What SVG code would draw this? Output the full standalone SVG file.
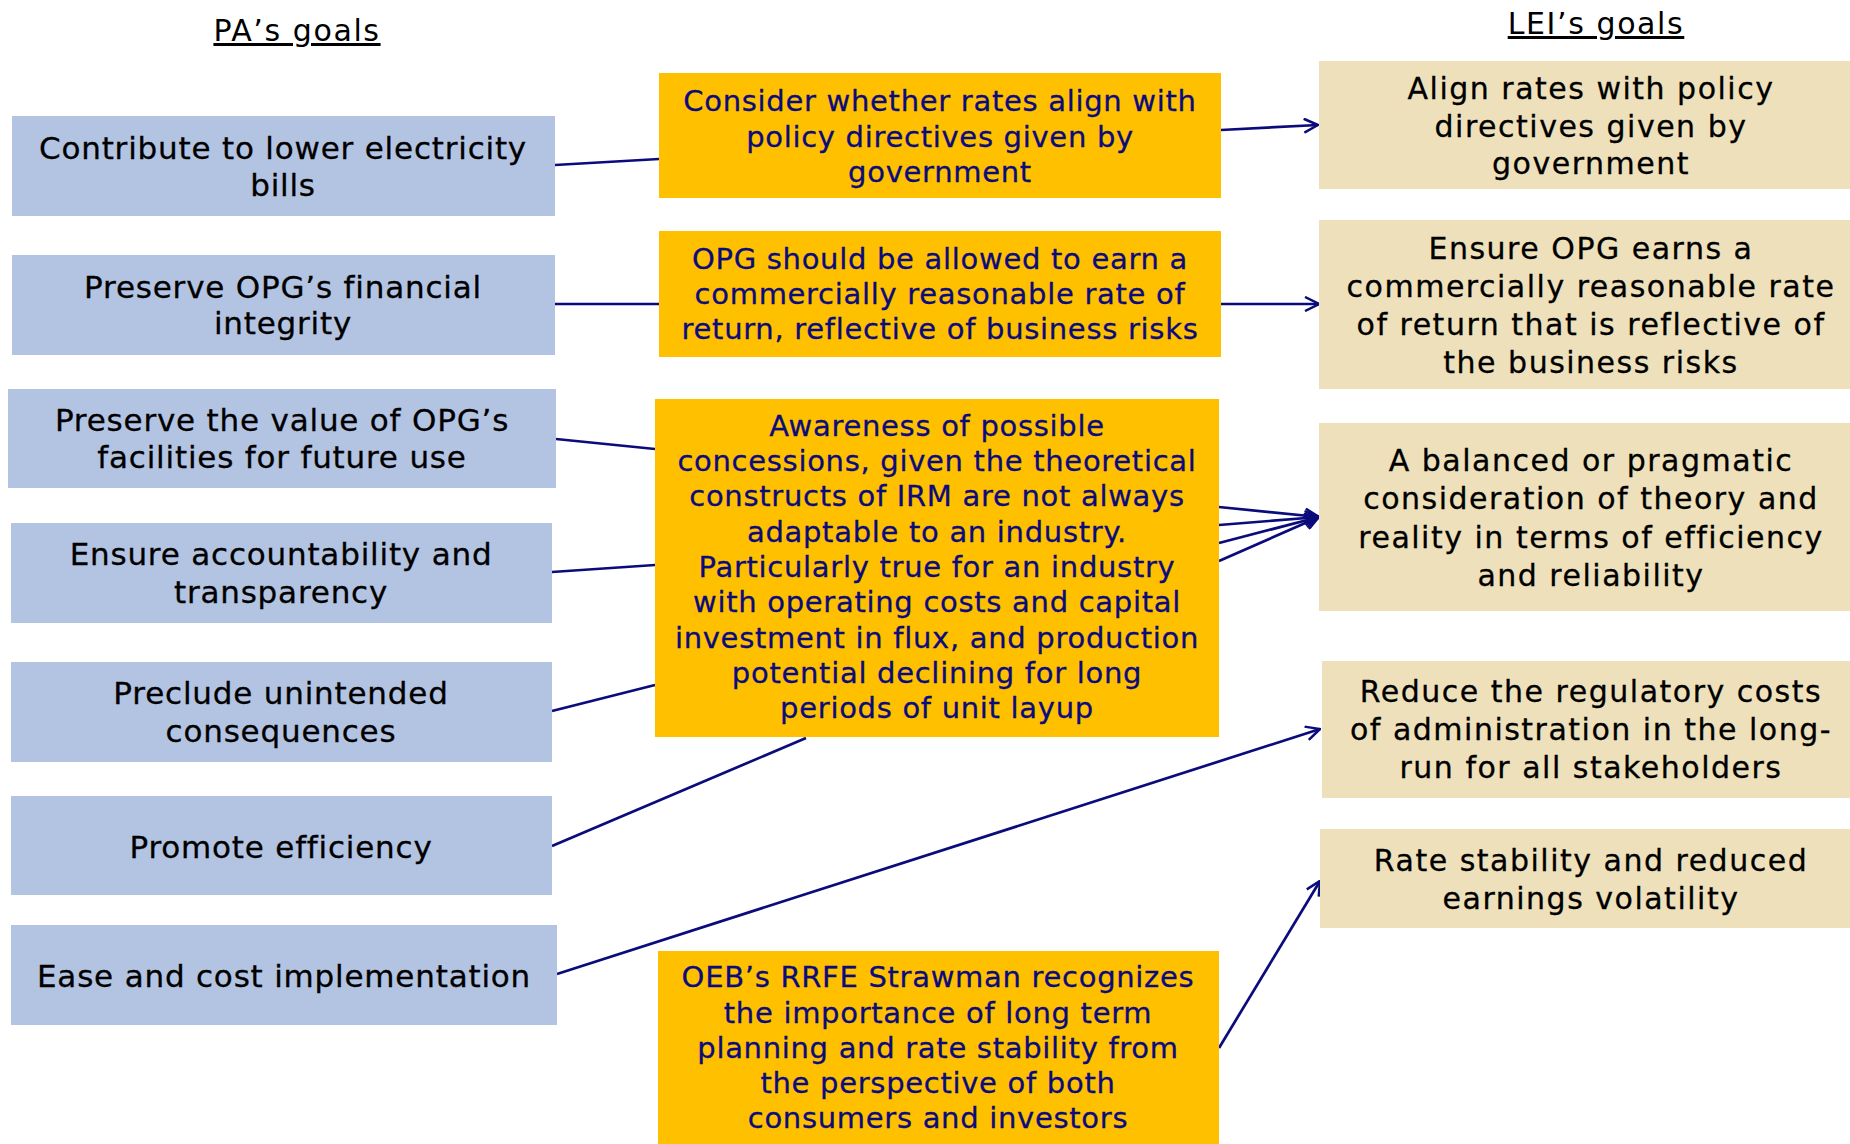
<svg xmlns="http://www.w3.org/2000/svg" width="1850" height="1144" viewBox="0 0 1850 1144">
<defs>
<marker id="ah" viewBox="0 0 16 16" refX="15" refY="8" markerWidth="16" markerHeight="16" markerUnits="userSpaceOnUse" orient="auto">
<path d="M1,1 L15,8 L1,15" fill="none" stroke="#0b0b7c" stroke-width="2.5"/>
</marker>
<style>
.pa{fill:#b3c3e2}
.op{fill:#ffc000}
.le{fill:#ede0ba}
.tl{font-family:"DejaVu Sans",Verdana,sans-serif;font-size:31px;letter-spacing:0.8px;fill:#000;stroke:#000;stroke-width:0.3px;text-anchor:middle}
.to{font-family:"DejaVu Sans",Verdana,sans-serif;font-size:29px;letter-spacing:0.7px;fill:#0b0b7c;stroke:#0b0b7c;stroke-width:0.3px;text-anchor:middle}
.tr{font-family:"DejaVu Sans",Verdana,sans-serif;font-size:30px;letter-spacing:1.5px;fill:#000;stroke:#000;stroke-width:0.3px;text-anchor:middle}
.hd{font-family:"DejaVu Sans",Verdana,sans-serif;font-size:30px;letter-spacing:1.6px;fill:#000;text-anchor:middle;text-decoration:underline}
.c{stroke:#0b0b7c;stroke-width:2.7;fill:none}
.ca{stroke:#0b0b7c;stroke-width:2.7;fill:none;marker-end:url(#ah)}
</style>
</defs>
<rect width="1850" height="1144" fill="#fff"/>
<g id="titles">
<text class="hd" x="297" y="41">PA’s goals</text>
<text class="hd" x="1596" y="34">LEI’s goals</text>
</g>
<g id="connectors">
<line class="c" x1="555" y1="165" x2="659" y2="159"/>
<line class="ca" x1="1221" y1="130" x2="1318" y2="125"/>
<line class="c" x1="555" y1="304" x2="659" y2="304"/>
<line class="ca" x1="1221" y1="304" x2="1319" y2="304"/>
<line class="c" x1="556" y1="439" x2="655" y2="449"/>
<line class="c" x1="552" y1="572" x2="655" y2="565"/>
<line class="c" x1="552" y1="711" x2="655" y2="685"/>
<line class="c" x1="552" y1="846" x2="806" y2="738"/>
<line class="ca" x1="1219" y1="507" x2="1319" y2="517"/>
<line class="ca" x1="1219" y1="525" x2="1319" y2="517"/>
<line class="ca" x1="1219" y1="543" x2="1319" y2="517"/>
<line class="ca" x1="1219" y1="561" x2="1319" y2="517"/>
<line class="ca" x1="557" y1="974" x2="1320" y2="729"/>
<line class="ca" x1="1219" y1="1048" x2="1320" y2="881"/>
</g>
<g id="pa1"><rect class="pa" x="12" y="116" width="543" height="100"/>
<text class="tl" x="283" y="159">Contribute to lower electricity</text>
<text class="tl" x="283" y="196">bills</text></g>
<g id="pa2"><rect class="pa" x="12" y="255" width="543" height="100"/>
<text class="tl" x="283" y="298">Preserve OPG’s financial</text>
<text class="tl" x="283" y="334">integrity</text></g>
<g id="pa3"><rect class="pa" x="8" y="389" width="548" height="99"/>
<text class="tl" x="282" y="431">Preserve the value of OPG’s</text>
<text class="tl" x="282" y="468">facilities for future use</text></g>
<g id="pa4"><rect class="pa" x="11" y="523" width="541" height="100"/>
<text class="tl" x="281" y="565">Ensure accountability and</text>
<text class="tl" x="281" y="603">transparency</text></g>
<g id="pa5"><rect class="pa" x="11" y="662" width="541" height="100"/>
<text class="tl" x="281" y="704">Preclude unintended</text>
<text class="tl" x="281" y="742">consequences</text></g>
<g id="pa6"><rect class="pa" x="11" y="796" width="541" height="99"/>
<text class="tl" x="281" y="858">Promote efficiency</text></g>
<g id="pa7"><rect class="pa" x="11" y="925" width="546" height="100"/>
<text class="tl" x="284" y="987">Ease and cost implementation</text></g>
<g id="op1"><rect class="op" x="659" y="73" width="562" height="125"/>
<text class="to" x="940" y="111">Consider whether rates align with</text>
<text class="to" x="940" y="147">policy directives given by</text>
<text class="to" x="940" y="182">government</text></g>
<g id="op2"><rect class="op" x="659" y="231" width="562" height="126"/>
<text class="to" x="940" y="269">OPG should be allowed to earn a</text>
<text class="to" x="940" y="304">commercially reasonable rate of</text>
<text class="to" x="940" y="339">return, reflective of business risks</text></g>
<g id="op3"><rect class="op" x="655" y="399" width="564" height="338"/>
<text class="to" x="937" y="435.5">Awareness of possible</text>
<text class="to" x="937" y="471">concessions, given the theoretical</text>
<text class="to" x="937" y="506">constructs of IRM are not always</text>
<text class="to" x="937" y="541.5">adaptable to an industry.</text>
<text class="to" x="937" y="577">Particularly true for an industry</text>
<text class="to" x="937" y="612">with operating costs and capital</text>
<text class="to" x="937" y="647.5">investment in flux, and production</text>
<text class="to" x="937" y="683">potential declining for long</text>
<text class="to" x="937" y="718">periods of unit layup</text></g>
<g id="op4"><rect class="op" x="658" y="951" width="561" height="193"/>
<text class="to" x="938" y="987">OEB’s RRFE Strawman recognizes</text>
<text class="to" x="938" y="1022.5">the importance of long term</text>
<text class="to" x="938" y="1058">planning and rate stability from</text>
<text class="to" x="938" y="1093">the perspective of both</text>
<text class="to" x="938" y="1128">consumers and investors</text></g>
<g id="le1"><rect class="le" x="1319" y="61" width="531" height="128"/>
<text class="tr" x="1591" y="99">Align rates with policy</text>
<text class="tr" x="1591" y="137">directives given by</text>
<text class="tr" x="1591" y="174">government</text></g>
<g id="le2"><rect class="le" x="1319" y="220" width="531" height="169"/>
<text class="tr" x="1591" y="259">Ensure OPG earns a</text>
<text class="tr" x="1591" y="297">commercially reasonable rate</text>
<text class="tr" x="1591" y="335">of return that is reflective of</text>
<text class="tr" x="1591" y="373">the business risks</text></g>
<g id="le3"><rect class="le" x="1319" y="423" width="531" height="188"/>
<text class="tr" x="1591" y="471">A balanced or pragmatic</text>
<text class="tr" x="1591" y="509">consideration of theory and</text>
<text class="tr" x="1591" y="548">reality in terms of efficiency</text>
<text class="tr" x="1591" y="586">and reliability</text></g>
<g id="le4"><rect class="le" x="1322" y="661" width="528" height="137"/>
<text class="tr" x="1591" y="702">Reduce the regulatory costs</text>
<text class="tr" x="1591" y="740">of administration in the long-</text>
<text class="tr" x="1591" y="778">run for all stakeholders</text></g>
<g id="le5"><rect class="le" x="1320" y="829" width="530" height="99"/>
<text class="tr" x="1591" y="871">Rate stability and reduced</text>
<text class="tr" x="1591" y="909">earnings volatility</text></g>
</svg>
